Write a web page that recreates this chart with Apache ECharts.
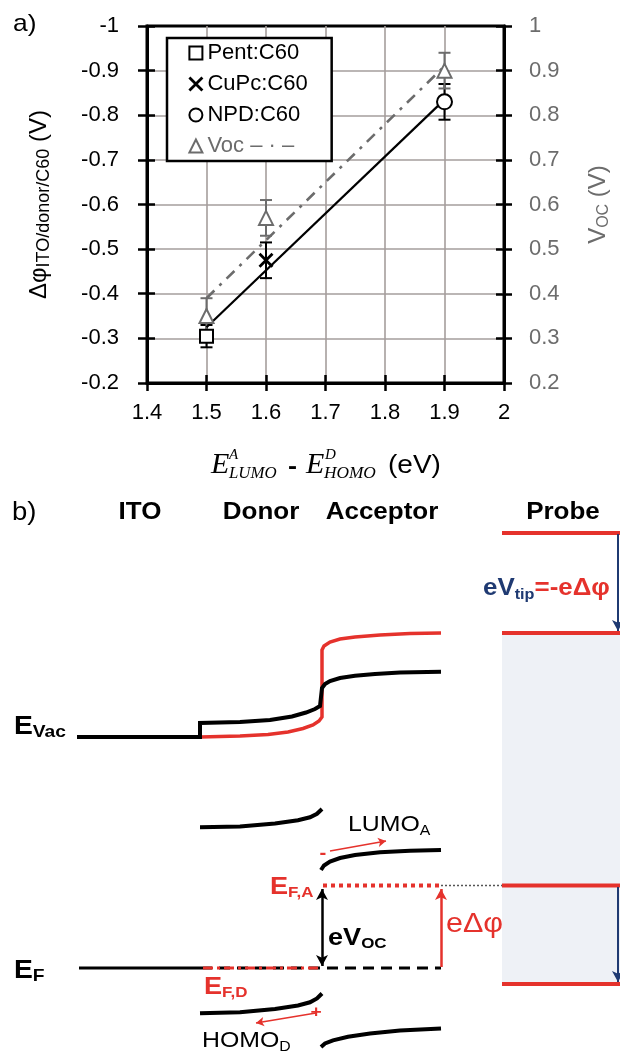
<!DOCTYPE html>
<html><head><meta charset="utf-8">
<script src="https://cdn.jsdelivr.net/npm/echarts@6/dist/echarts.min.js"></script>
<style>html,body{margin:0;padding:0;background:#fff}#c{width:620px;height:1057px}</style>
</head><body><div id="c"></div>
<script>
// ---------- panel a) data ----------
const xTicks = [1.4, 2.0];            // x-axis range (eV)
const phiTicks = [-1, -0.2];          // left axis range (V)
const vocTicks = [0.2, 1.0];          // right axis range (V)
const devices = ['Pent:C60', 'CuPc:C60', 'NPD:C60'];
const gapEV = [1.5, 1.6, 1.9];        // E_LUMO^A - E_HOMO^D
const dPhi = [-0.305, -0.475, -0.83]; // Δφ ITO/donor/C60
const dPhiErr = [0.025, 0.04, 0.04];
const voc = [0.35, 0.57, 0.90];
const vocErr = [0.04, 0.04, 0.04];
const fitX = [1.5, 1.9];
const phiFit = [-0.325, -0.835];
const vocFit = [0.39, 0.91];

// ---------- panel b) schematic (diagram units) ----------
const vacBlack = [[77,737],[200,737],[200,723],[240,722],[270,720],[292,716.5],[306,712.5],[315,709],[320,706],[322,704],[322,688],[325,684],[330,681],[340,678],[355,675.8],[375,674],[400,672.6],[441,671.7]];
const vacRed = [[200,737],[240,736],[268,734.5],[288,732],[303,728.5],[313,725],[319,721],[322,717],[322,650],[324,646],[330,642],[340,639],[355,637],[380,635],[410,633.6],[441,633]];
const lumoDonor = [[200,827.3],[240,826.5],[275,823.5],[298,820.3],[310,817.3],[317,813.8],[322,809]];
const lumoAcceptor = [[321,870],[324,865.5],[330,861.5],[340,858],[355,855],[380,852.3],[410,850.8],[441,850]];
const homoDonor = [[200,1013.3],[240,1012.2],[275,1009],[298,1005.5],[310,1002.3],[317,998.5],[322,993.5]];
const homoAcceptor = [[321,1047],[325,1043.5],[333,1040.3],[348,1036.8],[370,1033.5],[400,1030.6],[441,1028.5]];
const fermiITO = [[79,968],[201,968]];
const fermiDashed = [[201,968],[441,968]];
const fermiDonor = [[203,968],[322,968]];
const fermiAcceptor = [[323,885.5],[441,885.5]];
const fermiGuide = [[441,885.5],[502,885.5]];
const probeLevels = [[502,533],[620,533],null,[502,633],[620,633],null,[502,885.5],[620,885.5],null,[502,984],[620,984]];
const probeBox = [[502,633],[620,984]];

const RED = '#e5322c', BLUE = '#1f3a72', GRAY = '#6c6c6c', GRID = '#a59e9c';
const SANS = 'Liberation Sans, Arial, sans-serif';
const SERIF = 'Liberation Serif, Times New Roman, serif';
const SX = 1.13; // horizontal stretch of the original figure's lettering

function pairs(xs, ys){ return xs.map((x,i)=>[x, ys[i]]); }
function errData(xs, ys, es){ return xs.map((x,i)=>[x, ys[i]-es[i], ys[i]+es[i]]); }
function errRender(color){
  return function(params, api){
    const x = api.value(0);
    const a = api.coord([x, api.value(1)]), b = api.coord([x, api.value(2)]);
    const w = 6, st = {stroke: color, lineWidth: 2};
    return {type:'group', children:[
      {type:'line', shape:{x1:a[0],y1:a[1],x2:b[0],y2:b[1]}, style:st},
      {type:'line', shape:{x1:a[0]-w,y1:a[1],x2:a[0]+w,y2:a[1]}, style:st},
      {type:'line', shape:{x1:b[0]-w,y1:b[1],x2:b[0]+w,y2:b[1]}, style:st}
    ]};
  };
}
function diag(data, color, width, type, z){
  return {type:'line', xAxisIndex:2, yAxisIndex:4, data:data, showSymbol:false, symbol:'none',
    silent:true, connectNulls:false, z:z||3,
    lineStyle:{color:color, width:width, type:type||'solid', cap:'butt', join:'miter'}};
}
function txt(x, y, text, size, opts){
  opts = opts || {};
  return {type:'text', x:x, y:y, scaleX:opts.sx || SX, z:20,
    style:Object.assign({text:text, fontSize:size, fontFamily:opts.family || SANS, fill:opts.fill || '#000',
      fontWeight:opts.weight || 'normal', fontStyle:opts.style || 'normal',
      align:opts.align || 'left', verticalAlign:'middle'}, opts.rich ? {rich:opts.rich} : {})};
}
function subRich(mSize, sSize, color, weight, mLH, sLH){
  return {m:{fontSize:mSize, fontWeight:weight, fontFamily:SANS, fill:color, lineHeight:mLH || mSize + 4},
          s:{fontSize:sSize, fontWeight:weight, fontFamily:SANS, fill:color, lineHeight:sLH || 11, verticalAlign:'bottom'}};
}

const opt = {
  animation:false,
  backgroundColor:'#fff',
  textStyle:{fontFamily:SANS},
  grid:[
    {left:147, top:26, width:363, height:357, show:true, borderColor:'#000', borderWidth:3, backgroundColor:'transparent'},
    {left:0, top:470, width:620, height:587}
  ],
  legend:{
    left:167, top:38, orient:'vertical', backgroundColor:'#fff', z:10,
    borderColor:'#000', borderWidth:2.5, padding:[4,24,4,21], itemGap:9,
    itemWidth:13, itemHeight:13,
    textStyle:{fontSize:22, color:'#000', fontFamily:SANS},
    formatter:function(n){ return n === 'Voc' ? 'Voc \u2013 \u00b7 \u2013' : n; },
    data:[
      {name:devices[0], icon:'rect', itemStyle:{color:'#fff', borderColor:'#000', borderWidth:2}},
      {name:devices[1], icon:'path://M0,0L10,10M10,0L0,10', itemStyle:{color:'#000', borderColor:'#000', borderWidth:2.8}},
      {name:devices[2], icon:'circle', itemStyle:{color:'#fff', borderColor:'#000', borderWidth:2}},
      {name:'Voc', icon:'triangle', itemStyle:{color:'#fff', borderColor:GRAY, borderWidth:2}, textStyle:{color:GRAY}}
    ]
  },
  xAxis:[
    {gridIndex:0, type:'value', min:xTicks[0], max:xTicks[1], interval:0.1, position:'bottom',
     axisLine:{show:true, onZero:false, lineStyle:{color:'#000', width:3}},
     axisTick:{show:true, inside:false, length:8, lineStyle:{color:'#000', width:2.5}},
     axisLabel:{fontSize:22, color:'#000', margin:19, fontFamily:SANS},
     splitLine:{show:true, showMinLine:false, showMaxLine:false, lineStyle:{color:GRID, width:1.6}}},
    {gridIndex:0, type:'value', min:xTicks[0], max:xTicks[1], interval:0.1, position:'bottom',
     axisLine:{show:false, onZero:false}, axisTick:{show:true, inside:true, length:8, lineStyle:{color:'#000', width:2.5}},
     axisLabel:{show:false}, splitLine:{show:false}},
    {gridIndex:1, type:'value', min:0, max:620, show:false}
  ],
  yAxis:[
    {gridIndex:0, type:'value', inverse:true, min:phiTicks[0], max:phiTicks[1], interval:0.1, position:'left',
     axisLine:{show:true, onZero:false, lineStyle:{color:'#000', width:3}},
     axisTick:{show:true, inside:false, length:9, lineStyle:{color:'#000', width:2.5}},
     axisLabel:{fontSize:22, color:'#000', margin:28, fontFamily:SANS},
     splitLine:{show:true, showMinLine:false, showMaxLine:false, lineStyle:{color:GRID, width:1.6}},
     name:'{m|\u0394\u03c6}{s|ITO/donor/C60}{m| (V)}', nameLocation:'middle', nameRotate:90, nameGap:94,
     nameTextStyle:{rich:{
       m:{fontSize:24, color:'#000', fontFamily:SANS, lineHeight:28, verticalAlign:'middle'},
       s:{fontSize:18, color:'#000', fontFamily:SANS, lineHeight:12, verticalAlign:'bottom'}}}},
    {gridIndex:0, type:'value', inverse:true, min:phiTicks[0], max:phiTicks[1], interval:0.1, position:'left',
     axisLine:{show:false, onZero:false}, axisTick:{show:true, inside:true, length:8, lineStyle:{color:'#000', width:2.5}},
     axisLabel:{show:false}, splitLine:{show:false}},
    {gridIndex:0, type:'value', min:vocTicks[0], max:vocTicks[1], interval:0.1, position:'right',
     axisLine:{show:true, onZero:false, lineStyle:{color:'#000', width:3}},
     axisTick:{show:true, inside:false, length:8, lineStyle:{color:'#000', width:2.5}},
     axisLabel:{fontSize:22, color:GRAY, margin:25, fontFamily:SANS},
     splitLine:{show:false},
     name:'{m|V}{s|OC}{m| (V)}', nameLocation:'middle', nameRotate:90, nameGap:80,
     nameTextStyle:{rich:{
       m:{fontSize:24, color:GRAY, fontFamily:SANS, lineHeight:28, verticalAlign:'middle'},
       s:{fontSize:16, color:GRAY, fontFamily:SANS, lineHeight:12, verticalAlign:'bottom'}}}},
    {gridIndex:0, type:'value', min:vocTicks[0], max:vocTicks[1], interval:0.1, position:'right',
     axisLine:{show:false, onZero:false}, axisTick:{show:true, inside:true, length:8, lineStyle:{color:'#000', width:2.5}},
     axisLabel:{show:false}, splitLine:{show:false}},
    {gridIndex:1, type:'value', min:470, max:1057, inverse:true, show:false}
  ],
  series:[
    // error bars
    {type:'custom', xAxisIndex:0, yAxisIndex:0, renderItem:errRender('#000'), data:errData(gapEV, dPhi, dPhiErr), encode:{x:0, y:[1,2]}, z:2, silent:true},
    {type:'custom', xAxisIndex:0, yAxisIndex:2, renderItem:errRender(GRAY), data:errData(gapEV, voc, vocErr), encode:{x:0, y:[1,2]}, z:2, silent:true},
    // fit lines
    {type:'line', xAxisIndex:0, yAxisIndex:0, data:pairs(fitX, phiFit), showSymbol:false, symbol:'none', z:3,
     lineStyle:{color:'#000', width:2.2}},
    {type:'line', xAxisIndex:0, yAxisIndex:2, data:pairs(fitX, vocFit), showSymbol:false, symbol:'none', z:3,
     lineStyle:{color:GRAY, width:2.6, type:[11,7,3,7]}},
    // markers
    {name:devices[0], type:'scatter', xAxisIndex:0, yAxisIndex:0, data:[[gapEV[0], dPhi[0]]], symbol:'rect', symbolSize:13, z:5,
     itemStyle:{color:'#fff', borderColor:'#000', borderWidth:2, opacity:1}},
    {name:devices[1], type:'scatter', xAxisIndex:0, yAxisIndex:0, data:[[gapEV[1], dPhi[1]]], symbol:'path://M0,0L10,10M10,0L0,10', symbolSize:13, z:5,
     itemStyle:{color:'#000', borderColor:'#000', borderWidth:2.8, opacity:1}},
    {name:devices[2], type:'scatter', xAxisIndex:0, yAxisIndex:0, data:[[gapEV[2], dPhi[2]]], symbol:'circle', symbolSize:15, z:5,
     itemStyle:{color:'#fff', borderColor:'#000', borderWidth:2, opacity:1}},
    {name:'Voc', type:'scatter', xAxisIndex:0, yAxisIndex:2, data:pairs(gapEV, voc), symbol:'triangle', symbolSize:14, z:5,
     itemStyle:{color:'#fff', borderColor:GRAY, borderWidth:2, opacity:1}},

    // ---- panel b ----
    {type:'line', xAxisIndex:2, yAxisIndex:4, data:[], silent:true, z:1,
     markArea:{silent:true, itemStyle:{color:'#eef1f6'}, data:[[{coord:probeBox[0]},{coord:probeBox[1]}]]}},
    diag(vacRed, RED, 3.5, 'solid', 3),
    diag(vacBlack, '#000', 4, 'solid', 4),
    diag(lumoDonor, '#000', 4),
    diag(lumoAcceptor, '#000', 4),
    diag(homoDonor, '#000', 4),
    diag(homoAcceptor, '#000', 4),
    diag(fermiITO, '#000', 3),
    diag(fermiDashed, '#000', 3, [11,7]),
    diag(fermiDonor, RED, 3, [10,4,3,4], 4),
    diag(fermiAcceptor, RED, 4, [4,4], 4),
    diag(fermiGuide, '#555', 1.5, [2,2], 4),
    diag(probeLevels, RED, 4, 'solid', 4),
    {type:'line', xAxisIndex:2, yAxisIndex:4, data:[], silent:true, z:5,
     markLine:{silent:true, animation:false, symbol:['none','arrow'], symbolSize:[9,11], label:{show:false},
       emphasis:{disabled:true},
       data:[
         [{coord:[322,889], symbol:'arrow'},{coord:[322,966]}],
         [{coord:[441,967]},{coord:[441,889]}],
         [{coord:[618,534]},{coord:[618,631]}],
         [{coord:[618,887]},{coord:[618,982]}],
         [{coord:[330,851]},{coord:[386,841]}],
         [{coord:[316,1013]},{coord:[256,1023]}]
       ].map(function(d,i){
         const cols = ['#000', RED, BLUE, BLUE, RED, RED];
         const w = [2.5, 2.5, 2, 2, 1.6, 1.6];
         const cv = [0, 0, 0, 0, 0.18, -0.18];
         d[0].lineStyle = {color:cols[i], width:w[i], type:'solid', curveness:cv[i]};
         d[1].lineStyle = d[0].lineStyle;
         if (i >= 4) { d[0].symbolSize = [7,8]; d[1].symbolSize = [7,8]; }
         return d;
       })}}
  ],
  graphic:[
    txt(13, 24, 'a)', 24, {sx:1.1}),
    txt(12, 513, 'b)', 25, {sx:1.1}),
    // x-axis title
    txt(211, 465, 'E', 30, {family:SERIF, style:'italic', sx:1}),
    txt(229, 455, 'A', 15, {family:SERIF, style:'italic', sx:1}),
    txt(229, 474, 'LUMO', 16, {family:SERIF, style:'italic', sx:1.05}),
    txt(288, 467, '-', 24, {weight:'bold'}),
    txt(306, 465, 'E', 30, {family:SERIF, style:'italic', sx:1}),
    txt(325, 455, 'D', 15, {family:SERIF, style:'italic', sx:1}),
    txt(324, 474, 'HOMO', 16, {family:SERIF, style:'italic', sx:1.08}),
    txt(388, 466, '(eV)', 25, {sx:1.12}),
    // panel b headers
    txt(140, 513, 'ITO', 23, {weight:'bold', align:'center'}),
    txt(261, 513, 'Donor', 23, {weight:'bold', align:'center'}),
    txt(382, 513, 'Acceptor', 23, {weight:'bold', align:'center'}),
    txt(563, 513, 'Probe', 23, {weight:'bold', align:'center'}),
    // labels
    txt(483, 588, '{b|eV}{bs|tip}{r|=-e\u0394\u03c6}', 24, {sx:1.08, rich:{
      b:{fontSize:24, fontWeight:'bold', fontFamily:SANS, fill:BLUE, lineHeight:28},
      bs:{fontSize:15, fontWeight:'bold', fontFamily:SANS, fill:BLUE, lineHeight:11, verticalAlign:'bottom'},
      r:{fontSize:24, fontWeight:'bold', fontFamily:SANS, fill:RED, lineHeight:28}}}),
    txt(14, 727, '{m|E}{s|Vac}', 25, {rich:subRich(25, 17, '#000', 'bold', 28, 12)}),
    txt(14, 971, '{m|E}{s|F}', 25, {rich:subRich(25, 17, '#000', 'bold', 28, 12)}),
    txt(348, 825, '{m|LUMO}{s|A}', 22, {rich:subRich(22, 14, '#000', 'normal', 26, 10)}),
    txt(202, 1041, '{m|HOMO}{s|D}', 22, {rich:subRich(22, 14, '#000', 'normal', 26, 10)}),
    txt(270, 887, '{m|E}{s|F,A}', 24, {rich:subRich(24, 15, RED, 'bold', 26, 10)}),
    txt(204, 987, '{m|E}{s|F,D}', 24, {rich:subRich(24, 15, RED, 'bold', 26, 10)}),
    txt(328, 938, '{m|eV}{s|OC}', 24, {rich:subRich(24, 15, '#000', 'bold', 26, 10)}),
    txt(446, 925, 'e\u0394\u03c6', 27, {fill:RED}),
    txt(323, 854, '-', 18, {weight:'bold', fill:RED, align:'center'}),
    txt(316, 1012, '+', 17, {weight:'bold', fill:RED, align:'center'})
  ]
};
const chart = echarts.init(document.getElementById('c'), null, {renderer:'canvas'});
chart.setOption(opt);
</script></body></html>
